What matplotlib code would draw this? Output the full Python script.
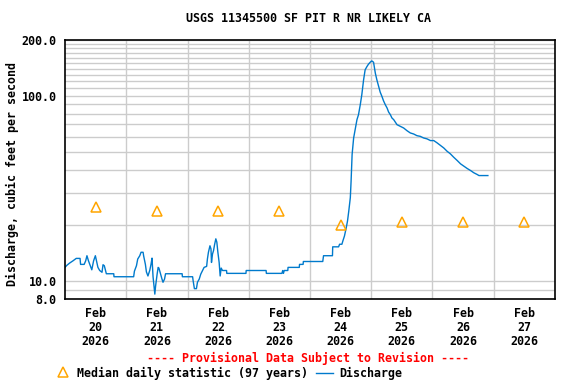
import matplotlib
matplotlib.use("Agg")
import matplotlib.pyplot as plt
from matplotlib.lines import Line2D

# hours since Feb 20 00:00
hours = [0, 0.7, 1.8, 3.1, 4.4, 5.9, 6.1, 7.5, 8.1, 8.6, 9.2, 9.9, 10.5, 11.2, 11.9,
         12.5, 12.9, 13.6, 14.5, 14.9, 15.4, 15.9, 16.2, 19.1, 19.2,
         26.9, 27.2, 28.0, 28.5, 29.3, 29.8, 30.6, 30.8, 31.5, 31.9, 32.5, 33.2, 33.7,
         34.1, 34.5, 34.8, 35.2, 35.5, 36.1, 36.5, 36.8, 37.4, 38.0, 38.4, 39.0, 39.4,
         45.9, 46.0,
         50.0, 50.2, 50.7, 51.5, 51.9, 52.6, 53.2, 53.9, 54.5, 55.5, 55.8, 56.2, 56.8,
         57.2, 57.4, 57.8, 58.2, 58.6, 59.1, 59.5, 59.9, 60.4, 60.8, 61.2, 61.7, 63.3,
         63.4, 70.9, 71.0,
         78.8, 78.9, 85.0, 85.3, 85.6, 85.9, 87.3, 87.4, 91.8, 91.9, 93.3, 93.4,
         101.0, 101.3, 104.8, 104.9, 107.2, 107.6, 108.5, 108.9, 109.5, 110.2, 110.7,
         111.2, 111.8, 112.1, 112.5, 113.1, 113.7, 114.4, 115.0, 115.7, 116.3, 117.0,
         117.6, 118.3, 118.9, 119.6,
         120.1, 120.3, 120.9, 121.6, 122.2, 122.9, 123.5, 124.2, 124.8, 125.5, 126.2,
         126.8, 127.5, 128.1, 128.8, 129.4, 130.1, 131.4, 132.7, 134.0, 135.3, 136.6,
         137.9, 139.2, 140.5, 141.9, 143.2,
         144.5, 145.8, 147.1, 148.4, 149.7, 151.0, 152.3, 153.7, 155.0, 156.3, 157.6,
         158.9, 160.2, 161.5, 162.2, 165.7]

discharge = [11.85, 12.15, 12.5, 12.85, 13.25, 13.25, 12.3, 12.3, 12.85, 13.7, 12.85, 12.1, 11.5, 12.85, 13.7,
             12.6, 11.85, 11.4, 11.15, 12.25, 12.1, 11.4, 10.95, 10.95, 10.55,
             10.55, 11.3, 12.1, 13.15, 13.7, 14.3, 14.3, 13.7, 12.3, 11.2, 10.65, 11.4, 12.3,
             13.3, 10.55, 9.6, 8.5, 9.4, 10.9, 11.85, 11.75, 10.95, 10.25, 9.85, 10.25, 10.95,
             10.95, 10.55,
             10.55, 10.05, 9.1, 9.1, 9.85, 10.25, 10.9, 11.4, 11.85, 12.0, 13.15, 14.3, 15.5,
             14.9, 12.6, 14.0, 14.6, 15.7, 16.9, 16.2, 14.3, 12.6, 10.65, 11.75, 11.4, 11.4,
             11.0, 11.0, 11.4,
             11.4, 11.0, 11.0, 11.4, 11.0, 11.4, 11.4, 11.85, 11.85, 12.3, 12.3, 12.75,
             12.75, 13.7, 13.7, 15.3, 15.3, 15.8, 15.8, 16.5, 17.5, 19.4, 21.1,
             23.9, 28.2, 34.6, 48.2, 59.2, 65.6, 74.3, 79.0, 89.5, 101.3, 121.9,
             138.0, 143.7, 148.0, 151.7,
             154.0, 154.0, 151.7, 132.4, 121.9, 112.0, 104.7, 99.1, 94.0, 89.5, 85.9,
             81.7, 79.0, 75.9, 74.3, 72.2, 69.8, 68.4, 67.0, 64.8, 63.0, 62.2,
             60.9, 60.4, 59.2, 58.5, 57.3,
             57.3, 55.7, 54.0, 52.3, 50.2, 48.6, 46.6, 44.7, 42.9, 41.7, 40.5,
             39.5, 38.4, 37.6, 37.1, 37.1]

median_hours = [12, 36, 60, 84, 108, 132, 156, 180]
median_vals = [25.1, 24.0, 24.0, 23.9, 20.1, 20.9, 20.9, 20.9]

day_labels = ["Feb\n20\n2026", "Feb\n21\n2026", "Feb\n22\n2026", "Feb\n23\n2026",
              "Feb\n24\n2026", "Feb\n25\n2026", "Feb\n26\n2026", "Feb\n27\n2026"]

font = {"family": "DejaVu Sans Mono", "weight": "bold", "size": 8.4}
blue = "#007acc"
orange = "#ffa500"

fig = plt.figure(figsize=(5.76, 3.84), dpi=100)
ax = fig.add_axes([65/576, 1-299/384, 490/576, 259/384])

ax.plot(hours, discharge, color=blue, linewidth=1)
ax.plot(median_hours, median_vals, linestyle="none", marker="^", markersize=7,
        markerfacecolor="none", markeredgecolor=orange, markeredgewidth=1.1)

ax.set_yscale("log")
ax.set_ylim(8, 200)
ax.set_xlim(0, 192)
ax.set_yticks([8, 10, 100, 200])
ax.set_yticklabels(["8.0", "10.0", "100.0", "200.0"], fontdict=font)
ax.set_yticks([9, 20, 30, 40, 50, 60, 70, 80, 90, 110, 120, 130, 140, 150, 160, 170, 180, 190], minor=True)
ax.yaxis.set_minor_formatter(plt.NullFormatter())
ax.set_xticks(median_hours)
ax.set_xticklabels(day_labels, fontdict=font, linespacing=1.1)
ax.set_xticks(range(24, 192, 24), minor=True)
ax.tick_params(which="both", length=0)
ax.tick_params(axis="x", pad=6)
ax.tick_params(axis="y", pad=6)
ax.grid(which="both", axis="y", color="#cccccc", linewidth=1)
ax.grid(which="minor", axis="x", color="#cccccc", linewidth=1)
ax.set_axisbelow(True)
for s in ax.spines.values():
    s.set_linewidth(1.2)

fig.text(309/576, 1-19/384, "USGS 11345500 SF PIT R NR LIKELY CA", ha="center", va="center", **font)
fig.text(12/576, 1-174/384, "Discharge, cubic feet per second", rotation=90,
         ha="center", va="center", **font)
fig.text(308/576, 1-358/384, "---- Provisional Data Subject to Revision ----",
         ha="center", va="center", color="red", **font)

# legend at the bottom
fig.add_artist(Line2D([63/576], [1-372/384], marker="^", markersize=7, markerfacecolor="none",
                      markeredgecolor=orange, markeredgewidth=1.1, linestyle="none"))
fig.text(77/576, 1-373/384, "Median daily statistic (97 years)", ha="left", va="center", **font)
fig.add_artist(Line2D([316/576, 333/576], [1-373/384, 1-373/384], color=blue, linewidth=1))
fig.text(339/576, 1-373/384, "Discharge", ha="left", va="center", **font)

fig.savefig("out.png", dpi=100)
